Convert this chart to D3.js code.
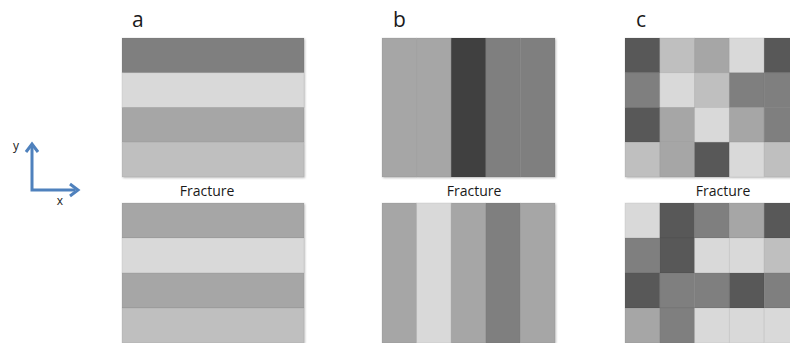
<!DOCTYPE html>
<html>
<head>
<meta charset="utf-8">
<script src="https://cdn.jsdelivr.net/npm/d3@7/dist/d3.min.js"></script>
<style>
  html, body { margin: 0; padding: 0; background: #fff; }
  svg { display: block; }
  text { font-family: "Open Sans", "Liberation Sans", sans-serif; fill: #1a1a1a; }
</style>
</head>
<body>
<svg id="chart" width="790" height="343"></svg>
<script>
// Grey levels (0 = black, 255 = white) of each block, before and after fracture.
// Panel a: horizontal layers (one value per row, top to bottom).
const layersTopA    = [127, 217, 166, 191];
const layersBottomA = [166, 217, 166, 191];

// Panel b: vertical layers (one value per column, left to right).
const layersTopB    = [166, 166, 64, 127, 127];
const layersBottomB = [166, 217, 166, 127, 166];

// Panel c: patchwork grid, rows top to bottom.
const gridTopC = [
  [ 89, 191, 166, 217,  89],
  [127, 217, 191, 127, 127],
  [ 89, 166, 217, 166, 127],
  [191, 166,  89, 217, 191]
];
const gridBottomC = [
  [217,  89, 127, 166,  89],
  [127,  89, 217, 217, 191],
  [ 89, 127, 127,  89, 127],
  [166, 127, 217, 217, 217]
];

const panelLetters = ["a", "b", "c"];
const fractureLabel = "Fracture";
const axisLabels = ["x", "y"];

const svg = d3.select("#chart");

const defs = svg.append("defs");
const shadow = defs.append("filter").attr("id", "shadow")
  .attr("x", "-5%").attr("y", "-5%").attr("width", "115%").attr("height", "115%");
shadow.append("feDropShadow")
  .attr("dx", 1).attr("dy", 1).attr("stdDeviation", 1)
  .attr("flood-color", "#000").attr("flood-opacity", 0.25);

const grey = v => d3.rgb(v, v, v).toString();

// Horizontal placement of the three panels and vertical placement of the two blocks.
const panelX = [[122, 304], [382, 555], [625, 799]];
const blockY = { top: [38, 177], bottom: [203, 343] };

// Turn each panel's data into a matrix of rows x columns.
const asGrid = {
  a: arr => arr.map(v => [v]),
  b: arr => [arr],
  c: arr => arr
};

function drawBlock(grid, xr, yr) {
  const nRows = grid.length, nCols = grid[0].length;
  const x = d3.scaleBand().domain(d3.range(nCols)).range(xr).paddingInner(0);
  const y = d3.scaleBand().domain(d3.range(nRows)).range(yr).paddingInner(0);
  const cells = [];
  grid.forEach((row, r) => row.forEach((v, c) => cells.push({ r, c, v })));
  const g = svg.append("g").attr("filter", "url(#shadow)");
  g.selectAll("rect").data(cells).join("rect")
    .attr("x", d => x(d.c))
    .attr("y", d => y(d.r))
    .attr("width", x.bandwidth())
    .attr("height", y.bandwidth())
    .attr("fill", d => grey(d.v))
    .attr("stroke", "#000")
    .attr("stroke-opacity", 0.06)
    .attr("stroke-width", 1);
}

const panels = [
  { top: asGrid.a(layersTopA), bottom: asGrid.a(layersBottomA) },
  { top: asGrid.b(layersTopB), bottom: asGrid.b(layersBottomB) },
  { top: asGrid.c(gridTopC),   bottom: asGrid.c(gridBottomC) }
];

panels.forEach((p, i) => {
  drawBlock(p.top, panelX[i], blockY.top);
  drawBlock(p.bottom, panelX[i], blockY.bottom);
});

// Panel letters
const letterX = [132, 393, 636];
svg.selectAll("text.letter").data(panelLetters).join("text")
  .attr("class", "letter")
  .attr("x", (d, i) => letterX[i])
  .attr("y", 27)
  .attr("font-size", 21)
  .text(d => d);

// "Fracture" labels between the blocks
const fractureX = [207, 474, 723];
svg.selectAll("text.fracture").data(fractureX).join("text")
  .attr("class", "fracture")
  .attr("x", d => d)
  .attr("y", 196)
  .attr("text-anchor", "middle")
  .attr("font-size", 14)
  .text(fractureLabel);

// Coordinate axes glyph
const axisColor = "#4f81bd";
const ax = svg.append("g");
ax.append("path")
  .attr("d", "M32,146 L32,190 L75,190")
  .attr("fill", "none")
  .attr("stroke", axisColor)
  .attr("stroke-width", 3)
  .attr("stroke-linejoin", "miter");
ax.append("path")
  .attr("d", "M26,152 L32,144 L38,152")
  .attr("fill", "none").attr("stroke", axisColor).attr("stroke-width", 3);
ax.append("path")
  .attr("d", "M70,184 L78,190 L70,196")
  .attr("fill", "none").attr("stroke", axisColor).attr("stroke-width", 3);
ax.append("text").attr("x", 60).attr("y", 205).attr("font-size", 12)
  .attr("text-anchor", "middle").text(axisLabels[0]);
ax.append("text").attr("x", 16).attr("y", 150).attr("font-size", 12)
  .attr("text-anchor", "middle").text(axisLabels[1]);
</script>
</body>
</html>
